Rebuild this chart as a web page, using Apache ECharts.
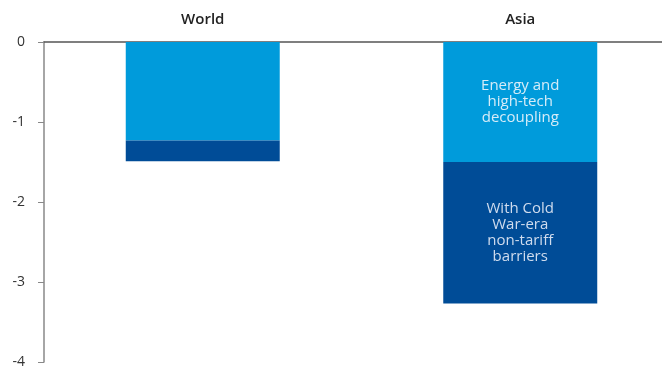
<!DOCTYPE html>
<html>
<head>
<meta charset="utf-8">
<script src="https://cdn.jsdelivr.net/npm/echarts@6/dist/echarts.min.js"></script>
<style>
html,body{margin:0;padding:0;background:#fff;overflow:hidden;}
#chart{width:679px;height:369px;}
</style>
</head>
<body>
<div id="chart"></div>
<script>
var categories = ['World', 'Asia'];
var energyValues = [-1.23, -1.50];
var coldWarValues = [-0.26, -1.77];
var energyLabels = ['', 'Energy and\nhigh-tech\ndecoupling'];
var coldWarLabels = ['', 'With Cold\nWar-era\nnon-tariff\nbarriers'];
var yTicks = [0, -1, -2, -3, -4];

function buildData(values, labels) {
  return values.map(function (v, i) {
    return {
      value: v,
      label: { show: labels[i] !== '', formatter: labels[i] }
    };
  });
}

var chart = echarts.init(document.getElementById('chart'));
chart.setOption({
  animation: false,
  textStyle: { fontFamily: '"Open Sans", sans-serif' },
  grid: { left: 44, top: 42, right: 0, bottom: 4.5, containLabel: false },
  xAxis: {
    type: 'category',
    data: categories,
    position: 'top',
    axisLine: { show: true, onZero: false, lineStyle: { color: '#555', width: 1.5 } },
    axisTick: { show: false },
    axisLabel: { color: '#222', fontSize: 15, fontWeight: 600, margin: 15 }
  },
  yAxis: {
    type: 'value',
    min: -4,
    max: 0,
    interval: 1,
    axisLine: { show: true, lineStyle: { color: '#888', width: 1.5 } },
    axisTick: { show: true, length: 6, lineStyle: { color: '#888' } },
    splitLine: { show: false },
    axisLabel: { color: '#333', fontSize: 14, margin: 19,
      formatter: function (v) { return yTicks.indexOf(v) >= 0 ? String(v) : ''; } }
  },
  series: [
    {
      name: 'Energy and high-tech decoupling',
      type: 'bar',
      stack: 'total',
      barWidth: '48.5%',
      itemStyle: { color: '#009bdb' },
      label: { position: 'inside', color: '#d6ecf8', fontSize: 15, lineHeight: 16 },
      data: buildData(energyValues, energyLabels)
    },
    {
      name: 'With Cold War-era non-tariff barriers',
      type: 'bar',
      stack: 'total',
      barWidth: '48.5%',
      itemStyle: { color: '#004c97' },
      label: { position: 'inside', color: '#cfdcee', fontSize: 15, lineHeight: 16 },
      data: buildData(coldWarValues, coldWarLabels)
    }
  ]
});
</script>
</body>
</html>
